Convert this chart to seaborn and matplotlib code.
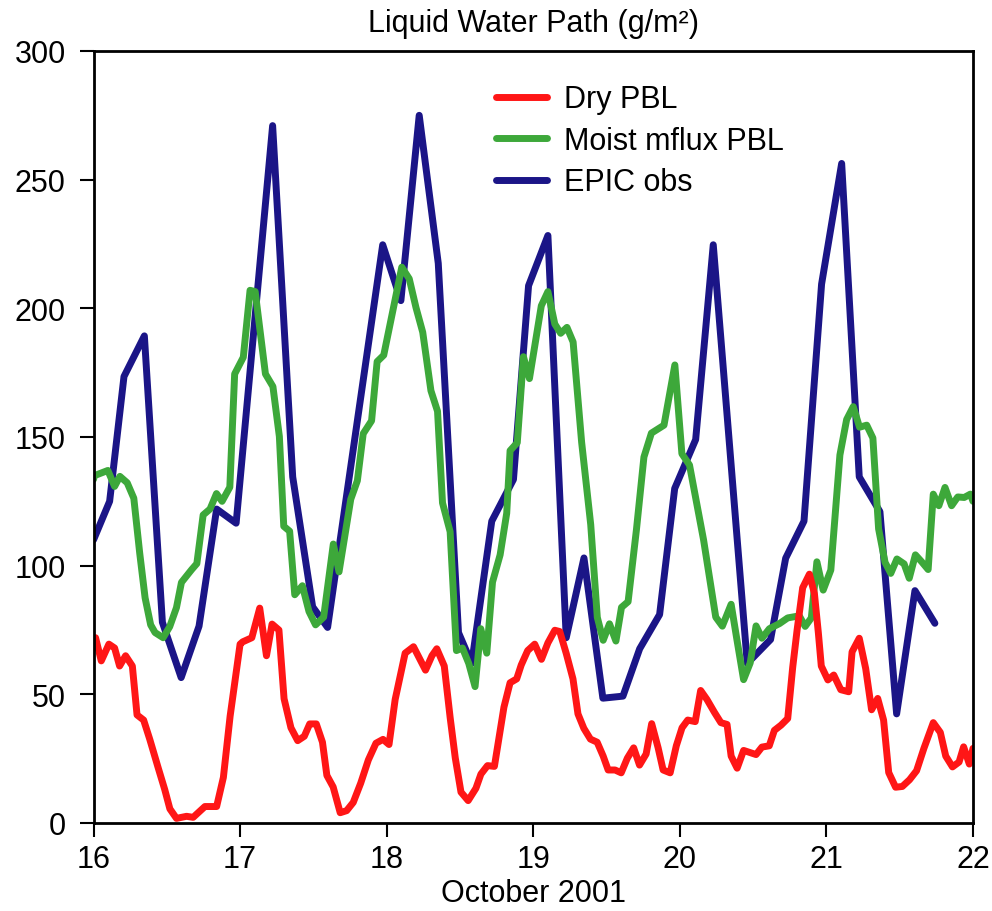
import numpy as np
import pandas as pd
import matplotlib
matplotlib.use("Agg")
import matplotlib.pyplot as plt
import seaborn as sns
from matplotlib.lines import Line2D

# ---- Data (day of October 2001, LWP g/m^2) ----
dry_day = [16.0, 16.014, 16.053, 16.105, 16.144, 16.178, 16.219, 16.265, 16.297, 16.342,
           16.384, 16.441, 16.486, 16.521, 16.566, 16.635, 16.68, 16.76, 16.84, 16.886,
           16.932, 17.0, 17.018, 17.08, 17.134, 17.18, 17.218, 17.265, 17.3, 17.347,
           17.393, 17.438, 17.475, 17.52, 17.562, 17.592, 17.635, 17.683, 17.727, 17.772,
           17.823, 17.875, 17.927, 17.975, 18.016, 18.058, 18.126, 18.183, 18.265, 18.309,
           18.342, 18.393, 18.433, 18.468, 18.507, 18.556, 18.609, 18.643, 18.688, 18.735,
           18.8, 18.842, 18.887, 18.918, 18.962, 19.01, 19.056, 19.1, 19.147, 19.181,
           19.225, 19.271, 19.305, 19.345, 19.39, 19.436, 19.477, 19.511, 19.558, 19.6,
           19.642, 19.685, 19.725, 19.77, 19.808, 19.852, 19.886, 19.934, 19.976, 20.015,
           20.054, 20.105, 20.142, 20.185, 20.236, 20.28, 20.322, 20.35, 20.391, 20.435,
           20.52, 20.56, 20.61, 20.645, 20.69, 20.736, 20.77, 20.8, 20.838, 20.884,
           20.918, 20.945, 20.965, 21.01, 21.05, 21.098, 21.152, 21.175, 21.224, 21.268,
           21.308, 21.35, 21.39, 21.425, 21.472, 21.518, 21.567, 21.615, 21.665, 21.729,
           21.777, 21.814, 21.86, 21.905, 21.936, 21.975, 22.0]
dry_lwp = [68, 72, 63, 69.5, 68, 61, 65, 61, 42, 40,
           32.5, 21.5, 13, 5.5, 1.8, 2.6, 2.2, 6.4, 6.4, 17.7,
           41.5, 69.5, 70.4, 72, 83.5, 65, 77.3, 75, 48.3, 37,
           32, 33.7, 38.5, 38.5, 31.4, 18.5, 14, 4, 4.8, 8,
           15.5, 24.5, 31, 32.5, 30.5, 48, 66, 68.5, 59.4, 65,
           67.7, 61, 41, 25.3, 12, 8.7, 13.5, 19, 22.3, 22,
           45, 54.5, 56, 61.4, 67, 69.5, 63.6, 70, 74.9, 74.4,
           65.9, 56, 42.4, 36.8, 32.6, 31.4, 26, 20.6, 20.6, 19.5,
           25.2, 29.2, 22.5, 26.8, 38.6, 29.2, 20.6, 19.5, 30, 37,
           40, 39.4, 51.5, 48, 43, 39, 38.3, 26, 21.3, 28.2,
           26.6, 29.5, 30, 36, 38, 40.6, 60.5, 75, 91.4, 96.7,
           89.2, 73.9, 61, 55.6, 57.5, 51.8, 51, 66.5, 71.8, 60,
           44, 48.4, 40, 19.6, 13.9, 14.2, 16.8, 20.3, 29, 39,
           35.2, 26, 21.8, 23.7, 29.6, 22.9, 29]

moist_day = [16.0, 16.007, 16.098, 16.144, 16.18, 16.23, 16.275, 16.3, 16.315, 16.352,
             16.39, 16.42, 16.475, 16.52, 16.566, 16.6, 16.67, 16.705, 16.748, 16.795,
             16.839, 16.877, 16.93, 16.963, 17.022, 17.068, 17.103, 17.173, 17.224, 17.268,
             17.298, 17.338, 17.373, 17.425, 17.47, 17.515, 17.57, 17.636, 17.675, 17.755,
             17.8, 17.84, 17.897, 17.935, 17.98, 18.103, 18.154, 18.2, 18.246, 18.302,
             18.347, 18.381, 18.433, 18.476, 18.517, 18.56, 18.603, 18.642, 18.683, 18.722,
             18.774, 18.819, 18.842, 18.891, 18.933, 18.974, 19.055, 19.1, 19.147, 19.187,
             19.23, 19.272, 19.33, 19.392, 19.437, 19.477, 19.52, 19.564, 19.602, 19.647,
             19.704, 19.755, 19.806, 19.892, 19.966, 20.014, 20.066, 20.162, 20.245, 20.29,
             20.35, 20.389, 20.435, 20.48, 20.52, 20.56, 20.611, 20.68, 20.736, 20.815,
             20.855, 20.897, 20.935, 20.978, 21.03, 21.092, 21.138, 21.183, 21.226, 21.275,
             21.317, 21.356, 21.4, 21.439, 21.481, 21.53, 21.565, 21.607, 21.65, 21.694,
             21.729, 21.767, 21.809, 21.854, 21.896, 21.94, 21.982, 22.0]
moist_lwp = [133.5, 135, 137, 130.8, 134.7, 132.2, 126.2, 113, 105, 87.5,
             77, 74, 72, 76.3, 83.7, 93.5, 98.5, 100.8, 119.7, 122,
             128, 125, 130.5, 174.5, 181, 207, 206.5, 174.5, 169.6, 150.2,
             115.3, 113.4, 88.7, 92.2, 82.2, 77, 80, 108.4, 97.6, 125.8,
             133, 151.3, 156.3, 179.3, 181.8, 216, 211.5, 200.3, 190.7, 168,
             160, 124.4, 113.2, 67, 68, 62, 53, 75.5, 66, 93.6,
             104.2, 120.4, 144.7, 147.8, 181.2, 172.7, 201, 206.5, 193.9, 190.3,
             192.6, 186.9, 148, 116, 79.9, 71, 77.4, 70.7, 83.8, 86,
             114, 142.2, 151.5, 154.6, 178, 143.5, 139.1, 110, 80, 76.5,
             85, 71.4, 55.7, 62.2, 76.6, 71.8, 75.5, 77.5, 79.7, 80.5,
             76.4, 79.7, 101.5, 90.5, 98.3, 143, 156.8, 161.8, 153.8, 154.6,
             149.6, 114.3, 101.3, 97, 102.6, 100.7, 95.1, 104.2, 101.5, 98.5,
             127.8, 123.3, 130.4, 123.3, 126.7, 126.5, 127.8, 125]

obs_day = [16.0, 16.11, 16.208, 16.347, 16.47, 16.598, 16.72, 16.84, 16.973, 17.222,
           17.359, 17.495, 17.597, 17.973, 18.097, 18.222, 18.352, 18.49, 18.58, 18.717,
           18.865, 18.968, 19.1, 19.225, 19.346, 19.475, 19.612, 19.726, 19.862, 19.965,
           20.108, 20.228, 20.46, 20.619, 20.722, 20.847, 20.967, 21.104, 21.224, 21.365,
           21.479, 21.604, 21.74]
obs_lwp = [110, 125, 173.5, 189.3, 78, 56.5, 76.5, 122, 116.5, 271,
           134.5, 84, 76, 224.7, 203, 275, 217.5, 74, 62, 117.3,
           133.5, 208.8, 228.3, 72, 103, 48.5, 49.3, 67.7, 81, 130,
           149, 224.7, 62, 71.3, 102.9, 117.3, 209.4, 256.3, 134.5, 121,
           42.4, 90.3, 77.6]

series_names = ["Dry PBL", "Moist mflux PBL", "EPIC obs"]
series_colors = ["#FF1616", "#3DA83A", "#1B1587"]
y_ticks = [0, 50, 100, 150, 200, 250, 300]
x_ticks = [16, 17, 18, 19, 20, 21, 22]
x_ticklabels = ["16", "17", "18", "19", "20", "21", "22"]

frames = []
for name, d, v in zip(series_names, [dry_day, moist_day, obs_day],
                      [dry_lwp, moist_lwp, obs_lwp]):
    frames.append(pd.DataFrame({"day": d, "lwp": v, "series": name}))
df = pd.concat(frames, ignore_index=True)
palette = dict(zip(series_names, series_colors))

sns.set_style("ticks")
plt.rcParams['font.family'] = ['Liberation Sans', 'DejaVu Sans']
plt.rcParams['text.color'] = 'black'
plt.rcParams['axes.labelcolor'] = 'black'
plt.rcParams['xtick.color'] = 'black'
plt.rcParams['ytick.color'] = 'black'

fig = plt.figure(figsize=(9.92, 9.12), dpi=100)
ax = fig.add_axes([93.5 / 992, 88 / 912, 879.5 / 992, 772 / 912])

# draw obs first, then moist, then dry on top
for name in ["EPIC obs", "Moist mflux PBL", "Dry PBL"]:
    sub = df[df["series"] == name]
    sns.lineplot(data=sub, x="day", y="lwp", color=palette[name], linewidth=5.0,
                 estimator=None, sort=False, ax=ax, legend=False)

ax.set_xlim(16, 22)
ax.set_ylim(0, 300)
ax.set_xticks(x_ticks)
ax.set_xticklabels(x_ticklabels)
ax.set_yticks(y_ticks)
ax.set_xlabel("October 2001", fontsize=22, labelpad=3, color="black")
ax.set_ylabel("")
ax.tick_params(axis="both", direction="out", length=10, width=1.5,
               labelsize=22, colors="black", labelcolor="black")
ax.tick_params(axis="x", pad=5)
ax.tick_params(axis="y", pad=10)
for s in ax.spines.values():
    s.set_linewidth(2)
    s.set_color("black")

fig.text(533 / 992, 1 - 24 / 912, "Liquid Water Path (g/m²)", fontsize=22,
         ha="center", va="center", color="black")

handles = [Line2D([0], [0], color=c, linewidth=5.0) for c in series_colors]
ax.legend(handles, series_names, loc="upper left", bbox_to_anchor=(0.458, 0.957),
          frameon=False, fontsize=22, handlelength=1.65, handletextpad=0.55,
          labelspacing=0.38, borderpad=0, borderaxespad=0, labelcolor="black")

fig.savefig("out.png", dpi=100)
